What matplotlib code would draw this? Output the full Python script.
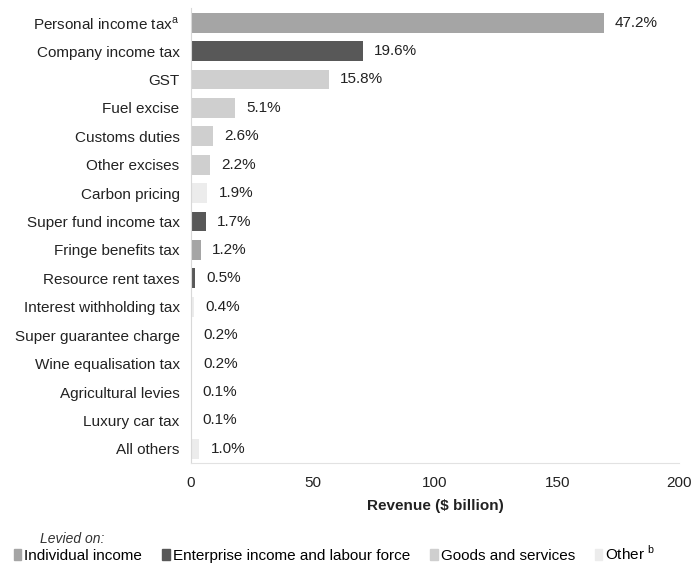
import matplotlib.pyplot as plt
from matplotlib.patches import Patch

plt.rcParams['font.family'] = ['Liberation Sans', 'DejaVu Sans']

# data (top to bottom)
taxes = ['Personal income tax$^{\\mathregular{a}}$', 'Company income tax', 'GST', 'Fuel excise',
         'Customs duties', 'Other excises', 'Carbon pricing', 'Super fund income tax',
         'Fringe benefits tax', 'Resource rent taxes', 'Interest withholding tax',
         'Super guarantee charge', 'Wine equalisation tax', 'Agricultural levies',
         'Luxury car tax', 'All others']
revenue = [169.0, 70.5, 56.5, 18.3, 9.3, 7.9, 6.8, 6.1, 4.3, 1.8, 1.4, 0.7, 0.7, 0.4, 0.4, 3.6]
shares = ['47.2%', '19.6%', '15.8%', '5.1%', '2.6%', '2.2%', '1.9%', '1.7%', '1.2%', '0.5%',
          '0.4%', '0.2%', '0.2%', '0.1%', '0.1%', '1.0%']
levied = ['ind', 'ent', 'gs', 'gs', 'gs', 'gs', 'oth', 'ent', 'ind', 'ent', 'oth', 'ent',
          'gs', 'oth', 'gs', 'oth']
groups = ['ind', 'ent', 'gs', 'oth']
group_names = ['Individual income', 'Enterprise income and labour force',
               'Goods and services', 'Other $^{\\mathregular{b}}$']

colors = {'ind': '#a5a5a5', 'ent': '#585858', 'gs': '#cfcfcf', 'oth': '#ececec'}

fig = plt.figure(figsize=(6.96, 5.64), dpi=100)
ax = fig.add_axes([0.274, 0.179, 0.702, 0.806])

ypos = list(range(len(taxes)))
ax.barh(ypos, revenue, height=0.7, color=[colors[g] for g in levied])
for y, v, s in zip(ypos, revenue, shares):
  ax.annotate(s, (v, y), textcoords='offset points', xytext=(8, 0), ha='left', va='center',
              fontsize=11, color='#222222')

ax.set_ylim(len(taxes) - 0.5, -0.5)
ax.set_xlim(0, 200)
ax.set_yticks(ypos)
ax.set_yticklabels(taxes, fontsize=11, color='#222222')
ax.set_xticks([0, 50, 100, 150, 200])
ax.tick_params(length=0, pad=8, labelsize=11, colors='#222222')
ax.tick_params(axis='x', pad=9)
ax.set_xlabel('Revenue ($ billion)', fontsize=11, fontweight='bold', color='#222222', labelpad=7)
for side in ['top', 'right']:
  ax.spines[side].set_visible(False)
ax.spines['left'].set_color('#d8d8d8')
ax.spines['bottom'].set_color('#e2e2e2')

fig.text(0.057, 0.038, 'Levied on:', fontsize=10, style='italic', color='#333333')
handles = [Patch(color=colors[g]) for g in groups]
fig.legend(handles, group_names, loc='lower left', bbox_to_anchor=(0.0, -0.022), ncol=4,
           frameon=False, fontsize=11, handlelength=0.5, handleheight=0.7,
           handletextpad=0.2, columnspacing=1.3)

fig.savefig('out.png', dpi=100)
